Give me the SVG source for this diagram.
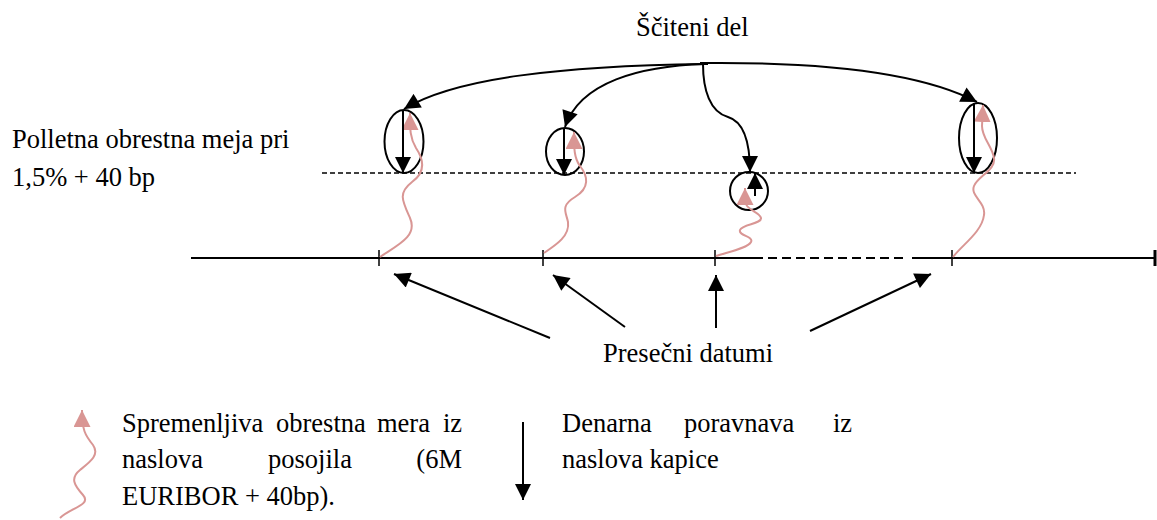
<svg xmlns="http://www.w3.org/2000/svg" width="1157" height="520" viewBox="0 0 1157 520">
<style>
text{font-family:'Liberation Serif','Times New Roman','DejaVu Serif',serif;font-size:26.5px;fill:#000}
.blk{stroke:#000;stroke-width:2;fill:none}
.pink{stroke:#D99694;stroke-width:2;fill:none}
.ell{stroke:#000;stroke-width:2;fill:none}
.dash{stroke:#000;stroke-width:1.3;stroke-dasharray:5,3;fill:none}
.tdash{stroke:#000;stroke-width:2;stroke-dasharray:9,5;fill:none}
.tick{stroke:#000;stroke-width:1.5}
</style>
<defs>
<marker id="ab" viewBox="0 0 10 10" refX="10" refY="5" markerWidth="8.5" markerHeight="8" markerUnits="strokeWidth" orient="auto"><path d="M0,0L10,5L0,10z" fill="#000"/></marker>
<marker id="ap" viewBox="0 0 10 10" refX="10" refY="5" markerWidth="8.5" markerHeight="8.5" markerUnits="strokeWidth" orient="auto"><path d="M0,0L10,5L0,10z" fill="#D99694"/></marker>
</defs>
<rect width="1157" height="520" fill="#fff"/>

<g id="labels" font-family="Liberation Serif, Times New Roman, serif" font-size="26.5">
<text x="636" y="36">Ščiteni del</text>
<text x="12" y="148">Polletna obrestna meja pri</text>
<text x="12" y="186">1,5% + 40 bp</text>
<text x="603" y="362">Presečni datumi</text>
</g>

<g id="cap-line">
<line class="dash" x1="322" y1="173" x2="1076" y2="173"/>
</g>

<g id="timeline">
<line class="blk" x1="191" y1="258" x2="763" y2="258"/>
<line class="tdash" x1="768" y1="258" x2="908" y2="258"/>
<line class="blk" x1="912" y1="258" x2="1155" y2="258"/>
<line x1="1155" y1="250" x2="1155" y2="266" stroke="#000" stroke-width="3"/>
<line class="tick" x1="379" y1="250" x2="379" y2="266"/>
<line class="tick" x1="543" y1="250" x2="543" y2="266"/>
<line class="tick" x1="715" y1="250" x2="715" y2="266"/>
<line class="tick" x1="952" y1="250" x2="952" y2="266"/>
</g>

<g id="node1">
<ellipse class="ell" cx="404" cy="141.5" rx="19.5" ry="31.5"/>
<path class="pink" d="M380,257 C398,245 418,236 410,218 C402,200 398,193 412,182 C426,172 424,160 416,148 C410,138 410,130 410,113" marker-end="url(#ap)"/>
<line class="blk" x1="403" y1="110" x2="403" y2="173" marker-end="url(#ab)"/>
</g>

<g id="node2">
<ellipse class="ell" cx="565" cy="151.5" rx="19" ry="23.5"/>
<path class="pink" d="M544,253 C556,245 570,236 568,222 C566,212 560,206 575,197 C590,188 588,176 580,166 C574,158 574,148 574,132" marker-end="url(#ap)"/>
<line class="blk" x1="564" y1="128" x2="564" y2="175" marker-end="url(#ab)"/>
</g>

<g id="node3">
<circle class="ell" cx="749" cy="191" r="19"/>
<path class="pink" d="M716,256 C728,252 748,248 751,242 C754,236 738,236 740,230 C742,224 762,224 761,218 C760,212 746,210 745,202 L745,188" marker-end="url(#ap)"/>
<line class="blk" x1="755" y1="196" x2="755" y2="173" marker-end="url(#ab)"/>
</g>

<g id="node4">
<ellipse class="ell" cx="978" cy="138" rx="19" ry="35"/>
<path class="pink" d="M953,257 C962,245 982,232 984,215 C986,202 970,196 974,186 C978,176 996,170 994,158 C992,146 982,138 982,126 L983,105" marker-end="url(#ap)"/>
<line class="blk" x1="974" y1="103" x2="974" y2="173" marker-end="url(#ab)"/>
</g>

<g id="connectors">
<line x1="700" y1="63.5" x2="708" y2="63.5" stroke="#000" stroke-width="3"/>
<path class="blk" d="M705,64 C560,66 455,78 404,109" marker-end="url(#ab)"/>
<path class="blk" d="M705,64 C640,66 580,82 565,127" marker-end="url(#ab)"/>
<path class="blk" d="M703,64 C703,90 710,112 728,117 C745,122 750,145 750,172" marker-end="url(#ab)"/>
<path class="blk" d="M705,63 C820,62 920,72 977,102" marker-end="url(#ab)"/>
<line class="blk" x1="550" y1="338" x2="394" y2="274" marker-end="url(#ab)"/>
<line class="blk" x1="625" y1="327" x2="553" y2="275" marker-end="url(#ab)"/>
<line class="blk" x1="716" y1="328" x2="716" y2="275" marker-end="url(#ab)"/>
<line class="blk" x1="810" y1="331" x2="931" y2="274" marker-end="url(#ab)"/>
</g>

<g id="legend-rate" font-family="Liberation Serif, Times New Roman, serif" font-size="26.5">
<path class="pink" d="M60,518 C70,508 92,505 83,495 C74,485 70,478 80,470 C90,462 100,455 93,445 C85,435 82,430 82,410" marker-end="url(#ap)"/>
<text x="122" y="432">Spremenljiva</text>
<text x="276" y="432">obrestna</text>
<text x="377" y="432">mera</text>
<text x="462" y="432" text-anchor="end">iz</text>
<text x="122" y="468">naslova</text>
<text x="268" y="468">posojila</text>
<text x="462" y="468" text-anchor="end">(6M</text>
<text x="122" y="505">EURIBOR + 40bp).</text>
</g>

<g id="legend-payment" font-family="Liberation Serif, Times New Roman, serif" font-size="26.5">
<line class="blk" x1="523" y1="422" x2="523" y2="500" marker-end="url(#ab)"/>
<text x="562" y="432">Denarna</text>
<text x="684" y="432">poravnava</text>
<text x="852" y="432" text-anchor="end">iz</text>
<text x="562" y="468">naslova kapice</text>
</g>
</svg>
